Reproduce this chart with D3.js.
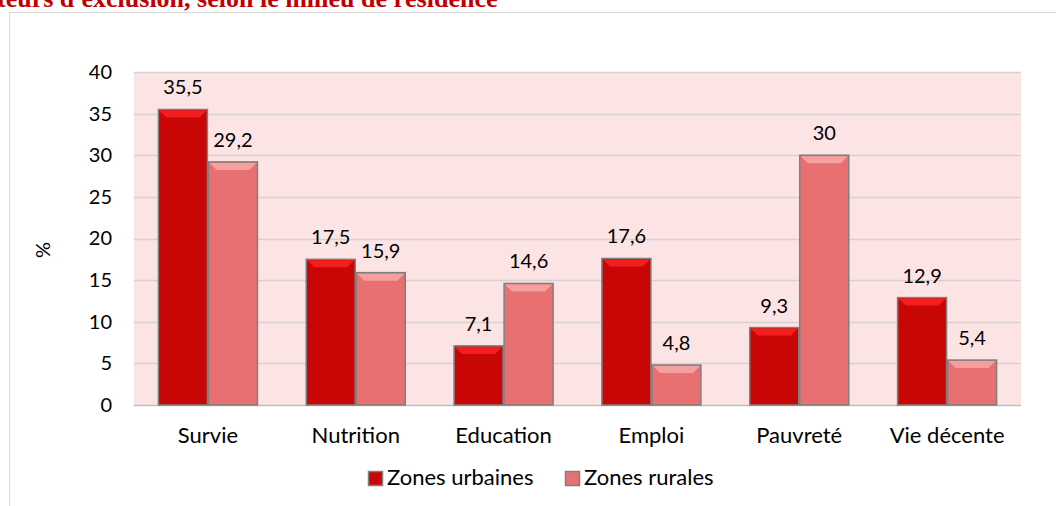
<!DOCTYPE html>
<html>
<head>
<meta charset="utf-8">
<script src="https://cdn.jsdelivr.net/npm/d3@7"></script>
<style>
  body { margin: 0; background: #fff; }
  svg { display: block; font-family: Lato, 'Open Sans', sans-serif; }
</style>
</head>
<body>
<svg id="chart"></svg>
<script>
const categories = ['Survie', 'Nutrition', 'Education', 'Emploi', 'Pauvreté', 'Vie décente'];
const seriesNames = ['Zones urbaines', 'Zones rurales'];
const urbaines = [35.5, 17.5, 7.1, 17.6, 9.3, 12.9];
const rurales = [29.2, 15.9, 14.6, 4.8, 30, 5.4];
const yTicks = [0, 5, 10, 15, 20, 25, 30, 35, 40];

const width = 1056;
const height = 506;
const plot = { left: 134, right: 1021, top: 72, bottom: 405 };

const fills = ['#C80606', '#E97070'];
const tops = ['#F51E1E', '#F5A0A0'];
const numSize = 20;
const wordSize = 22;

const svg = d3.select('#chart').attr('width', width).attr('height', height);

// frame
svg.append('rect')
  .attr('x', 9.5).attr('y', 12.5)
  .attr('width', 1100).attr('height', 600)
  .attr('fill', 'none').attr('stroke', '#D9D9D9');

// title (cut off at the top in the original)
svg.append('text')
  .attr('x', -3).attr('y', 7)
  .attr('font-family', "'Liberation Serif', 'Times New Roman', serif")
  .attr('font-weight', 'bold')
  .attr('font-size', 26)
  .attr('fill', '#C00000')
  .text("teurs d'exclusion, selon le milieu de résidence");

const y = d3.scaleLinear().domain([0, 40]).range([plot.bottom, plot.top]);
const x0 = d3.scaleBand().domain(categories)
  .range([plot.left, plot.right])
  .paddingInner(0.3235).paddingOuter(0.16175);
const x1 = d3.scaleBand().domain(seriesNames).range([0, x0.bandwidth()]);

svg.append('rect')
  .attr('x', plot.left).attr('y', plot.top)
  .attr('width', plot.right - plot.left).attr('height', plot.bottom - plot.top)
  .attr('fill', '#FDE4E4');

// gridlines
svg.append('g')
  .selectAll('line')
  .data(yTicks)
  .enter()
  .append('line')
  .attr('x1', plot.left).attr('x2', plot.right)
  .attr('y1', (d) => Math.round(y(d)) + 0.5)
  .attr('y2', (d) => Math.round(y(d)) + 0.5)
  .attr('stroke', (d) => (d === 0 ? '#BFBFBF' : '#D6D0D0'))
  .attr('stroke-width', 1.5);

// y axis labels
const yAxis = d3.axisLeft(y).tickValues(yTicks).tickSize(0).tickPadding(22);
svg.append('g')
  .attr('transform', `translate(${plot.left},0)`)
  .call(yAxis)
  .call((g) => g.select('.domain').remove())
  .selectAll('text')
  .attr('font-family', "Lato, sans-serif")
  .attr('font-size', numSize)
  .attr('fill', '#000');

svg.append('text')
  .attr('transform', 'translate(50,250) rotate(-90)')
  .attr('text-anchor', 'middle')
  .attr('font-size', numSize)
  .text('%');

// x axis labels
const xAxis = d3.axisBottom(x0).tickSize(0).tickPadding(22);
svg.append('g')
  .attr('transform', `translate(0,${plot.bottom})`)
  .call(xAxis)
  .call((g) => g.select('.domain').remove())
  .selectAll('text')
  .attr('font-family', "Lato, sans-serif")
  .attr('font-size', wordSize)
  .attr('fill', '#000');

const rows = categories.map((c, i) => ({ cat: c, values: [urbaines[i], rurales[i]] }));
const fmt = (v) => String(v).replace('.', ',');

const group = svg.append('g')
  .selectAll('g')
  .data(rows)
  .enter()
  .append('g')
  .attr('transform', (d) => `translate(${x0(d.cat)},0)`);

const bars = group.selectAll('g')
  .data((d) => d.values.map((v, i) => ({ v, i, s: seriesNames[i] })))
  .enter()
  .append('g');

bars.append('rect')
  .attr('x', (d) => x1(d.s) + 0.5)
  .attr('y', (d) => y(d.v))
  .attr('width', x1.bandwidth() - 1)
  .attr('height', (d) => y(0) - y(d.v))
  .attr('fill', (d) => fills[d.i])
  .attr('stroke', '#7F7F7F')
  .attr('stroke-width', 1.5);

// bevel on top
bars.append('path')
  .attr('d', (d) => {
    const l = x1(d.s) + 1.5;
    const r = x1(d.s) + x1.bandwidth() - 1.5;
    const t = y(d.v) + 1;
    const b = 7;
    return `M${l},${t}L${r},${t}L${r - b},${t + b}L${l + b},${t + b}Z`;
  })
  .attr('fill', (d) => tops[d.i]);

bars.append('text')
  .attr('x', (d) => x1(d.s) + x1.bandwidth() / 2)
  .attr('y', (d) => y(d.v) - 15)
  .attr('text-anchor', 'middle')
  .attr('font-size', numSize)
  .text((d) => fmt(d.v));

// legend
const legend = svg.append('g');
const legendItems = [
  { name: seriesNames[0], x: 368, tx: 387 },
  { name: seriesNames[1], x: 565, tx: 584 }
];
legendItems.forEach((item, i) => {
  legend.append('rect')
    .attr('x', item.x + 0.5).attr('y', 471.5)
    .attr('width', 14).attr('height', 14)
    .attr('fill', fills[i]).attr('stroke', '#7F7F7F').attr('stroke-width', 1.5);
  legend.append('text')
    .attr('x', item.tx).attr('y', 485)
    .attr('font-size', wordSize)
    .text(item.name);
});
</script>
</body>
</html>
